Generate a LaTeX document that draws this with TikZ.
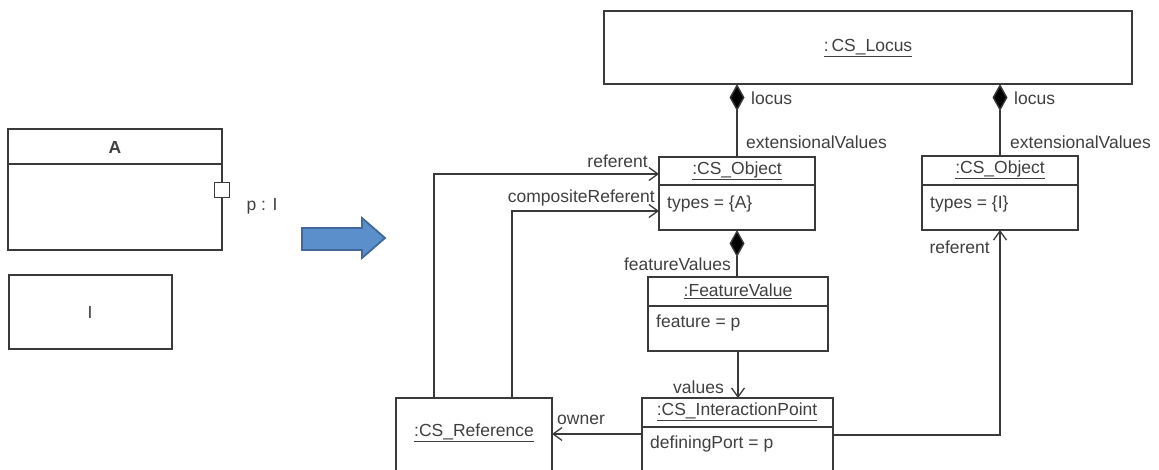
\documentclass[tikz,border=0pt]{standalone}
\usepackage{fontspec}
\setmainfont{Liberation Sans}
\usetikzlibrary{arrows.meta,calc}
\definecolor{ln}{HTML}{3A3A3A}
\definecolor{tx}{HTML}{404040}
\definecolor{arrfill}{HTML}{5B8FCB}
\definecolor{arrdraw}{HTML}{41699A}
\tikzset{
  box/.style={draw=ln, line width=1.5pt, fill=white, anchor=north west, outer sep=0pt, inner sep=0pt},
  lbl/.style={text=tx, inner sep=0pt, font=\fontsize{17.5}{20}\selectfont},
  assoc/.style={draw=ln, line width=1.4pt, -{Straight Barb[length=9pt,width=13pt,line width=1.3pt]}},
  comp/.style={draw=ln, line width=1.4pt, {Diamond[length=27pt,width=15pt,fill=black]}-},
  sep/.style={draw=ln, line width=1.4pt},
}
\begin{document}
\begin{tikzpicture}[x=1pt,y=-1pt]
\useasboundingbox (0,0) rectangle (1159,470);
\clip (0,0) rectangle (1159,470);
\fill[white] (0,0) rectangle (1159,470);

% Left: class A with port, interface I
\node[box, minimum width=214pt, minimum height=121pt] (A) at (8,129) {};
\draw[sep] (8,164) -- (222,164);
\node[lbl, font=\fontsize{17.5}{20}\selectfont\bfseries] (Aname) at (115,147) {A};
\node[draw=ln, line width=1.4pt, fill=white, minimum size=15pt, inner sep=0pt] (port) at (222,190) {};
\node[lbl] (portlbl) at (262,206) {p : I};
\node[box, minimum width=163pt, minimum height=74pt] (I) at (9,275) {};
\node[lbl] (Iname) at (90,312) {I};

% Blue arrow
\draw[draw=arrdraw, fill=arrfill, line width=1.8pt, line join=miter]
  (302,228) -- (362,228) -- (362,218) -- (385,238) -- (362,258) -- (362,250) -- (302,250) -- cycle;

% Right: instance diagram
\node[box, minimum width=528pt, minimum height=73pt] (locus) at (604,11) {};
\node[lbl] (locusname) at (868,48) {\underline{:\,CS\_Locus}};

\node[box, minimum width=156pt, minimum height=73pt] (obj1) at (659,157) {};
\draw[sep] (659,185) -- (815,185);
\node[lbl] (obj1name) at (737,171) {\underline{:CS\_Object}};
\node[lbl, anchor=west] (obj1attr) at (667,204) {types = \{A\}};

\node[box, minimum width=156pt, minimum height=74pt] (obj2) at (922,156) {};
\draw[sep] (922,185) -- (1078,185);
\node[lbl] (obj2name) at (1000,170) {\underline{:CS\_Object}};
\node[lbl, anchor=west] (obj2attr) at (930,204) {types = \{I\}};

\node[box, minimum width=180pt, minimum height=74pt] (fv) at (648,277) {};
\draw[sep] (648,306) -- (828,306);
\node[lbl] (fvname) at (738,291) {\underline{:FeatureValue}};
\node[lbl, anchor=west] (fvattr) at (656,323) {feature = p};

\node[box, minimum width=191pt, minimum height=80pt] (ip) at (642,398) {};
\draw[sep] (642,427) -- (833,427);
\node[lbl] (ipname) at (737,412) {\underline{:CS\_InteractionPoint}};
\node[lbl, anchor=west] (ipattr) at (650,444) {definingPort = p};

\node[box, minimum width=156pt, minimum height=80pt] (ref) at (396,398) {};
\node[lbl] (refname) at (474,433) {\underline{:CS\_Reference}};

% Composition: locus
\draw[comp] (obj1.north |- locus.south) -- (obj1.north);
\draw[comp] (obj2.north |- locus.south) -- (obj2.north);
\node[lbl, anchor=west] (l1) at (751,98) {locus};
\node[lbl, anchor=west] (e1) at (746,142) {extensionalValues};
\node[lbl, anchor=west] (l2) at (1014,98) {locus};
\node[lbl, anchor=west] (e2) at (1010,142) {extensionalValues};

% Composition: featureValues
\draw[comp] (obj1.south) -- (obj1.south |- fv.north);
\node[lbl, anchor=east] (fvl) at (731,264) {featureValues};

% values
\draw[assoc] (fv.south) -- (fv.south |- ip.north);
\node[lbl, anchor=east] (vl) at (724,387) {values};

% owner
\draw[assoc] ([yshift=-36pt]ip.north west) -- ([yshift=-36pt]ref.north east);
\node[lbl, anchor=west] (ol) at (557,420) {owner};

% referent (left)
\draw[assoc] ([xshift=38pt]ref.north west) |- ([yshift=-17pt]obj1.north west);
\node[lbl, anchor=east] (rl1) at (648,161) {referent};

% compositeReferent
\draw[assoc] ([xshift=116pt]ref.north west) |- ([yshift=-54pt]obj1.north west);
\node[lbl, anchor=east] (cr) at (655,198) {compositeReferent};

% referent (right)
\draw[assoc] ([yshift=-37pt]ip.north east) -| (obj2.south);
\node[lbl, anchor=east] (rl2) at (990,247) {referent};
\end{tikzpicture}
\end{document}
